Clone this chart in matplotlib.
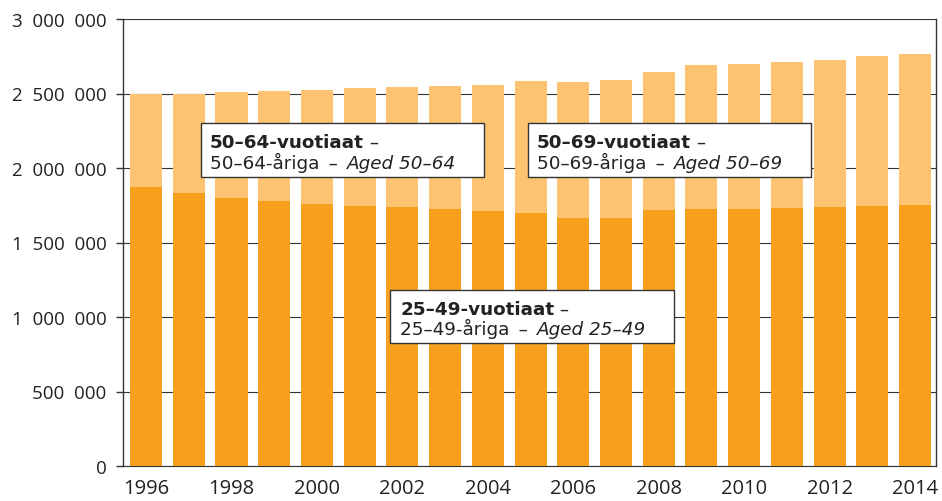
import numpy as np
import matplotlib
matplotlib.use("Agg")
import matplotlib.pyplot as plt
from matplotlib.patches import Rectangle
from matplotlib.text import Annotation
from matplotlib.ticker import FuncFormatter

plt.rcParams['font.family'] = ['Open Sans', 'DejaVu Sans']

# data
years = list(range(1996, 2015))
aged_25_49 = [1874000, 1834000, 1801000, 1781000, 1761000, 1745000, 1736000,
              1727000, 1713000, 1700000, 1664000, 1666000, 1716000, 1725000,
              1725000, 1732000, 1738000, 1747000, 1754000]
aged_50_plus = [623000, 662000, 707000, 736000, 762000, 790000, 808000,
                821000, 844000, 884000, 911000, 927000, 930000, 966000,
                973000, 979000, 989000, 1005000, 1009000]
year_labels = years[::2]
y_ticks = [0, 500000, 1000000, 1500000, 2000000, 2500000, 3000000]

dark = '#F6A01E'
light = '#FCC372'
W, H = 942, 502

fig = plt.figure(figsize=(W / 100, H / 100), dpi=100)
ax = fig.add_axes([123 / W, 1 - 467 / H, (936 - 123) / W, (467 - 20) / H])

ax.bar(years, aged_25_49, width=0.75, color=dark, zorder=3)
ax.bar(years, aged_50_plus, width=0.75, bottom=aged_25_49, color=light, zorder=3)

ax.set_xlim(1995.46, 2014.49)
ax.set_ylim(0, 3000000)
ax.set_yticks(y_ticks)
ax.yaxis.set_major_formatter(FuncFormatter(lambda v, p: f"{int(v):,}".replace(",", "  ")))
ax.set_xticks(year_labels)
ax.set_xticklabels([str(y) for y in year_labels])

ax.grid(axis='y', color='#333333', linewidth=0.8)
ax.set_axisbelow(True)
for s in ['left', 'right']:
    ax.spines[s].set_color('#333333')
    ax.spines[s].set_linewidth(1.0)
ax.spines['top'].set_visible(False)
ax.spines['bottom'].set_color('#333333')
ax.spines['bottom'].set_zorder(1)

ax.tick_params(axis='y', length=5, width=1.0, color='#333333', pad=7,
               labelsize=13.5, labelcolor='#222222')
ax.tick_params(axis='x', length=0, pad=9, labelsize=14.5, labelcolor='#222222')


def piece(text, xy, xycoords, va, **extra):
    a = Annotation(text, xy=xy, xycoords=xycoords, va=va, fontsize=13.2,
                   family='DejaVu Sans', color='#222222', zorder=6, **extra)
    fig.add_artist(a)
    return a


def label_box(x0, y0, x1, y1, tx, b1, b2, bold, line2, ital):
    fig.add_artist(Rectangle((x0 / W, 1 - y1 / H), (x1 - x0) / W, (y1 - y0) / H,
                             transform=fig.transFigure, facecolor='white',
                             edgecolor='#333333', linewidth=1.0, zorder=5))
    t = piece(bold, (tx, H - b1), 'figure pixels', 'baseline', fontweight='bold')
    piece(' –', (1, 0), t, 'bottom')
    t2 = piece(line2, (tx, H - b2), 'figure pixels', 'baseline')
    piece(ital, (1, 0), t2, 'bottom', style='italic')


label_box(201, 124, 484, 178, 210, 148, 169.5,
          '50–64-vuotiaat', '50–64-åriga\u2002–\u2002', 'Aged 50–64')
label_box(528, 124, 811, 178, 537, 148, 169.5,
          '50–69-vuotiaat', '50–69-åriga\u2002–\u2002', 'Aged 50–69')
label_box(390, 291, 674, 344, 400, 315, 335.5,
          '25–49-vuotiaat', '25–49-åriga\u2002–\u2002', 'Aged 25–49')

fig.savefig('out.png', dpi=100)
